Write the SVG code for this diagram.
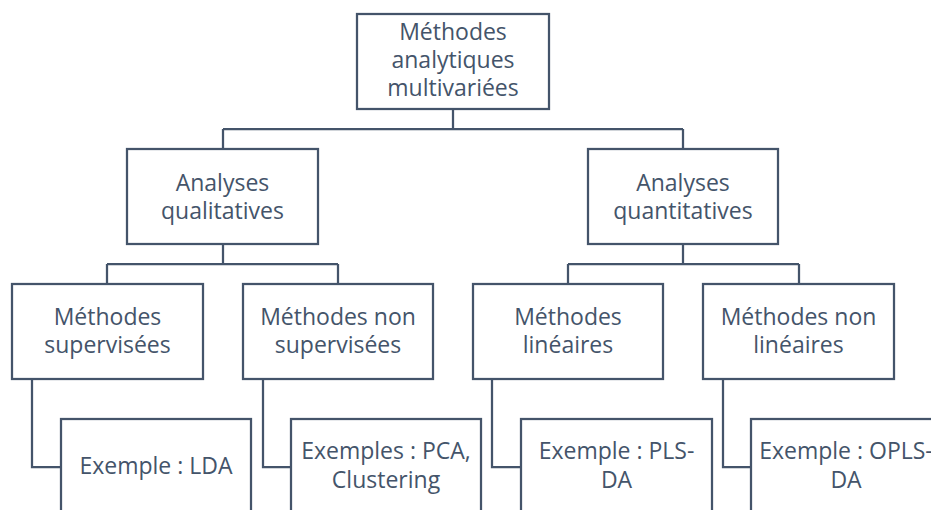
<svg xmlns="http://www.w3.org/2000/svg" width="931" height="510" viewBox="0 0 931 510">
<style>
.box{fill:#ffffff;stroke:#44546A;stroke-width:2.25}
.conn{fill:none;stroke:#44546A;stroke-width:2.25}
text{font-family:"Open Sans","Liberation Sans",sans-serif;font-size:23px;fill:#44546A;text-anchor:middle}
</style>
<rect width="931" height="510" fill="#ffffff"/>
<g id="connectors">
<path class="conn" d="M453,109 V129 M223,129 H683 M223,129 V149 M683,129 V149"/>
<path class="conn" d="M223,244 V264 M107,264 H338 M107,264 V284 M338,264 V284"/>
<path class="conn" d="M683,244 V264 M568,264 H799 M568,264 V284 M799,264 V284"/>
<path class="conn" d="M32,379 V467 H61 M263,379 V467 H291 M492,379 V467 H521 M723,379 V467 H751"/>
</g>
<g id="n-root">
<rect class="box" x="357" y="14" width="192" height="95"/>
<text x="453" y="40">Méthodes</text>
<text x="453" y="68">analytiques</text>
<text x="453" y="96">multivariées</text>
</g>
<g id="n-qual">
<rect class="box" x="127" y="149" width="191" height="95"/>
<text x="222.5" y="191">Analyses</text>
<text x="222.5" y="219">qualitatives</text>
</g>
<g id="n-quant">
<rect class="box" x="588" y="149" width="190" height="95"/>
<text x="683" y="191">Analyses</text>
<text x="683" y="219">quantitatives</text>
</g>
<g id="n-sup">
<rect class="box" x="12" y="284" width="191" height="95"/>
<text x="107.5" y="325">Méthodes</text>
<text x="107.5" y="353">supervisées</text>
</g>
<g id="n-nonsup">
<rect class="box" x="243" y="284" width="190" height="95"/>
<text x="338" y="325">Méthodes non</text>
<text x="338" y="353">supervisées</text>
</g>
<g id="n-lin">
<rect class="box" x="473" y="284" width="190" height="95"/>
<text x="568" y="325">Méthodes</text>
<text x="568" y="353">linéaires</text>
</g>
<g id="n-nonlin">
<rect class="box" x="703" y="284" width="191" height="95"/>
<text x="798.5" y="325">Méthodes non</text>
<text x="798.5" y="353">linéaires</text>
</g>
<g id="n-lda">
<rect class="box" x="61" y="419" width="190" height="95"/>
<text x="156" y="474">Exemple : LDA</text>
</g>
<g id="n-pca">
<rect class="box" x="291" y="419" width="190" height="95"/>
<text x="386" y="459">Exemples : PCA,</text>
<text x="386" y="488">Clustering</text>
</g>
<g id="n-pls">
<rect class="box" x="521" y="419" width="191" height="95"/>
<text x="616.5" y="459">Exemple : PLS-</text>
<text x="616.5" y="488">DA</text>
</g>
<g id="n-opls">
<rect class="box" x="751" y="419" width="190" height="95"/>
<text x="846" y="459">Exemple : OPLS-</text>
<text x="846" y="488">DA</text>
</g>
</svg>
